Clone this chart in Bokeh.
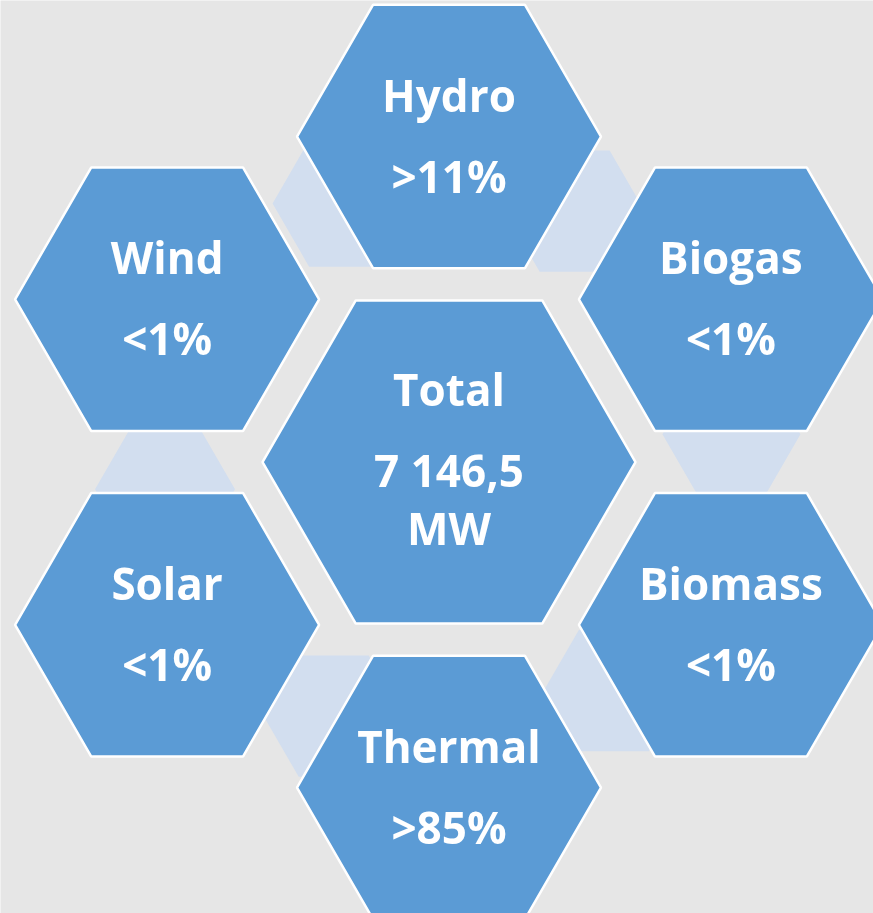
import numpy as np
from bokeh.plotting import figure
from bokeh.models import Range1d, ColumnDataSource
from bokeh.core.properties import value
from bokeh.embed import file_html
from bokeh.resources import INLINE

# ---- data ----
labels = ["Hydro", "Biogas", "Biomass", "Thermal", "Solar", "Wind"]
shares = [">11%", "<1%", "<1%", ">85%", "<1%", "<1%"]
total_lines = ["Total", "7 146,5", "MW"]

# ---- layout (screen pixels, y downward) ----
W, H = 873, 913
CX, CY = 448.5, 461.5
RING = 325.5
R_OUT = 152
R_CENTER = 186.5
outer_angles = [90, 30, -30, -90, -150, 150]
conn_angles = [63.4, 5.6, -54.2, -114.4, 185.5, 111.8]
conn_dist = [280.6, 283.8, 281.8, 279.1, 285.3, 278.5]
conn_size = [70, 69, 70, 70, 70, 73]
label_offsets = [-42.0, 39.0]
total_offsets = [-73.0, 7.5, 66.0]

BG = "#E6E6E6"
BLUE = "#5B9BD5"
LIGHT = "#D2DEEF"


def hexagon(cx, cy, r):
    a = np.radians(np.arange(0, 360, 60))
    return list(cx + r * np.cos(a)), list(cy + r * np.sin(a))


p = figure(width=W, height=H, x_range=Range1d(0, W), y_range=Range1d(H, 0),
           output_backend="svg", toolbar_location=None,
           x_axis_location=None, y_axis_location=None, min_border=0)
p.grid.visible = False
p.outline_line_color = None
p.background_fill_color = BG
p.border_fill_color = BG
p.styles = {"position": "fixed", "left": "0px", "top": "0px"}

# connectors
cxs, cys = [], []
for ang, d, r in zip(conn_angles, conn_dist, conn_size):
    t = np.radians(ang)
    xs, ys = hexagon(CX + d * np.cos(t), CY - d * np.sin(t), r)
    cxs.append(xs)
    cys.append(ys)
p.patches(cxs, cys, fill_color=LIGHT, line_color=None)

# main hexagons
hx, hy, centers = [], [], []
for ang in outer_angles:
    t = np.radians(ang)
    ox, oy = CX + RING * np.cos(t), CY - RING * np.sin(t)
    centers.append((ox, oy))
    xs, ys = hexagon(ox, oy, R_OUT)
    hx.append(xs)
    hy.append(ys)
xs, ys = hexagon(CX, CY, R_CENTER)
hx.append(xs)
hy.append(ys)
p.patches(hx, hy, fill_color=BLUE, line_color="white", line_width=2.5)

# texts
tx, ty, tt = [], [], []
for (ox, oy), lab, sh in zip(centers, labels, shares):
    for off, s in zip(label_offsets, [lab, sh]):
        tx.append(ox)
        ty.append(oy + off)
        tt.append(s)
for off, s in zip(total_offsets, total_lines):
    tx.append(CX)
    ty.append(CY + off)
    tt.append(s)
src = ColumnDataSource(dict(x=tx, y=ty, text=tt))
p.text("x", "y", "text", source=src, text_font=value("Open Sans"),
       text_font_style="bold", text_font_size="44px", text_color="white",
       text_align="center", text_baseline="alphabetic")

open("out.html", "w").write(file_html(p, INLINE))
